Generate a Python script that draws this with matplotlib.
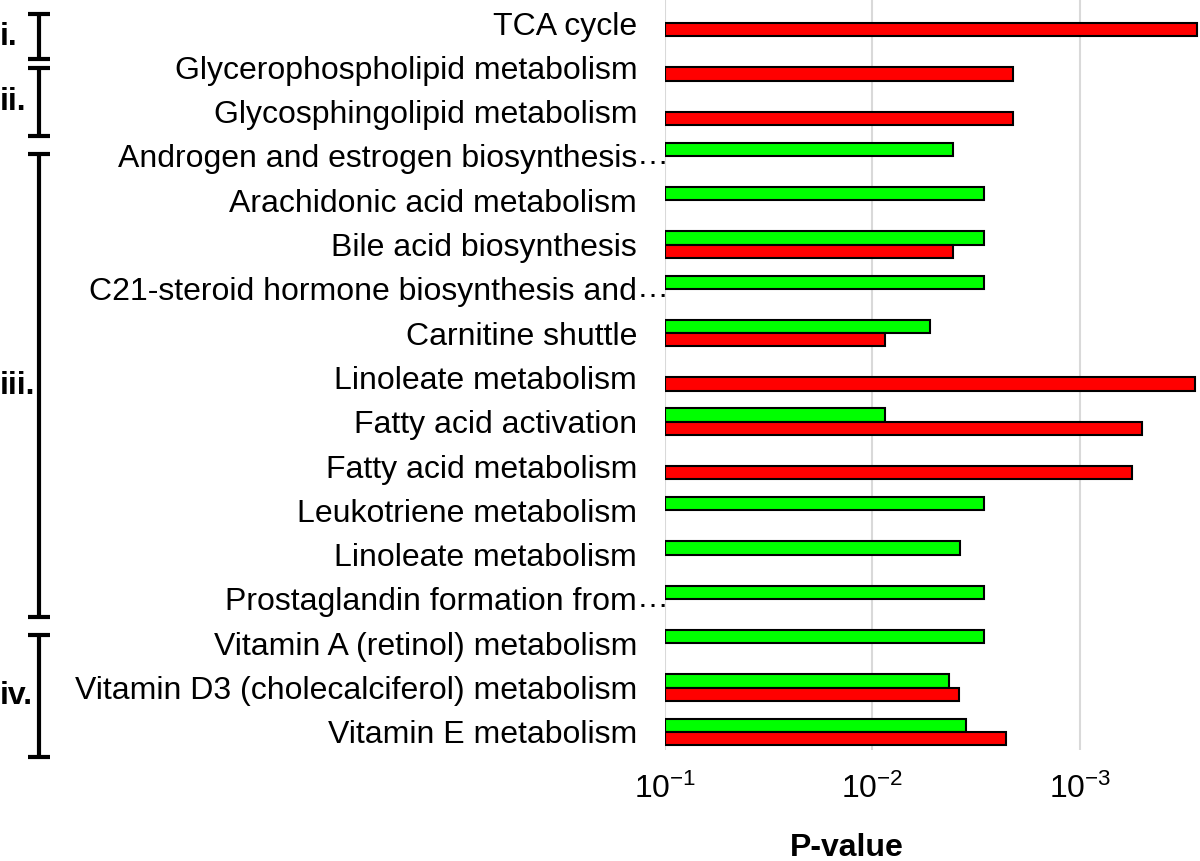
import numpy as np
import matplotlib.pyplot as plt
from matplotlib.transforms import blended_transform_factory

plt.rcParams['font.family'] = ['Liberation Sans', 'DejaVu Sans']
plt.rcParams['mathtext.fontset'] = 'custom'
plt.rcParams['mathtext.rm'] = 'Liberation Sans'

pathways = ['TCA cycle', 'Glycerophospholipid metabolism', 'Glycosphingolipid metabolism',
            'Androgen and estrogen biosynthesis', 'Arachidonic acid metabolism',
            'Bile acid biosynthesis', 'C21-steroid hormone biosynthesis and',
            'Carnitine shuttle', 'Linoleate metabolism', 'Fatty acid activation',
            'Fatty acid metabolism', 'Leukotriene metabolism', 'Linoleate metabolism',
            'Prostaglandin formation from', 'Vitamin A (retinol) metabolism',
            'Vitamin D3 (cholecalciferol) metabolism', 'Vitamin E metabolism']
truncated = [False, False, False, True, False, False, True, False, False, False,
             False, False, False, True, False, False, False]

# p-values (nan = no bar)
p_green = [np.nan, np.nan, np.nan, 4.1e-3, 2.9e-3, 2.9e-3, 2.9e-3, 5.3e-3, np.nan,
           8.7e-3, np.nan, 2.9e-3, 3.8e-3, 2.9e-3, 2.9e-3, 4.3e-3, 3.55e-3]
p_red = [2.72e-4, 2.1e-3, 2.1e-3, np.nan, np.nan, 4.1e-3, np.nan, 8.7e-3, 2.79e-4,
         5.0e-4, 5.6e-4, np.nan, np.nan, np.nan, np.nan, 3.83e-3, 2.27e-3]

groups = ['i.', 'ii.', 'iii.', 'iv.']
group_spans = [(-0.20, 0.81), (1.02, 2.55), (2.96, 13.41), (13.81, 16.57)]

base = 0.1
y = np.arange(len(pathways))
h = 0.3

fig = plt.figure(figsize=(12, 8.61), dpi=100)
ax = fig.add_axes([665 / 1200, 1 - 750 / 861, 535 / 1200, 750 / 861])

g = np.array(p_green)
r = np.array(p_red)
ax.barh(y - h / 2, g - base, left=base, height=h, color='#00ff00',
        edgecolor='black', linewidth=1.5)
ax.barh(y + h / 2, r - base, left=base, height=h, color='#ff0000',
        edgecolor='black', linewidth=1.5)

ax.set_xscale('log')
ax.set_xlim(1e-1, 2.64e-4)
ax.set_ylim(16.41, -0.52)
ax.set_xticks([1e-1, 1e-2, 1e-3])
ax.set_xticklabels([r'$\mathregular{10^{-1}}$', r'$\mathregular{10^{-2}}$',
                    r'$\mathregular{10^{-3}}$'])
ax.minorticks_off()
ax.set_yticks(y)
ax.set_yticklabels(pathways)
ax.tick_params(axis='y', length=0, pad=20, labelsize=23)
ax.tick_params(axis='x', length=0, pad=17, labelsize=23)
ax.grid(axis='x', color='#d9d9d9', linewidth=1.5)
ax.set_axisbelow(True)
for s in ax.spines.values():
    s.set_visible(False)

# overflowing ellipsis for cut-off labels
tr = blended_transform_factory(fig.transFigure, ax.transData)
for i, t in enumerate(truncated):
    if t:
        ax.text(637 / 1200, i, '…', transform=tr, ha='left', va='center',
                fontsize=23, clip_on=False)

# group brackets
xc, cw = 39 / 1200, 11 / 1200
for name, (a, b) in zip(groups, group_spans):
    ax.plot([xc, xc], [a, b], color='black', lw=3, transform=tr, clip_on=False,
            solid_capstyle='butt')
    for yy in (a, b):
        ax.plot([xc - cw, xc + cw], [yy, yy], color='black', lw=3, transform=tr,
                clip_on=False, solid_capstyle='butt')
    ax.text(0, (a + b) / 2, name, transform=tr, ha='left', va='center',
            fontsize=23, fontweight='bold', clip_on=False)

fig.text(847 / 1200, 1 - 848 / 861, 'P-value', ha='center', va='center',
         fontsize=23, fontweight='bold')

fig.savefig('out.png', dpi=100)
